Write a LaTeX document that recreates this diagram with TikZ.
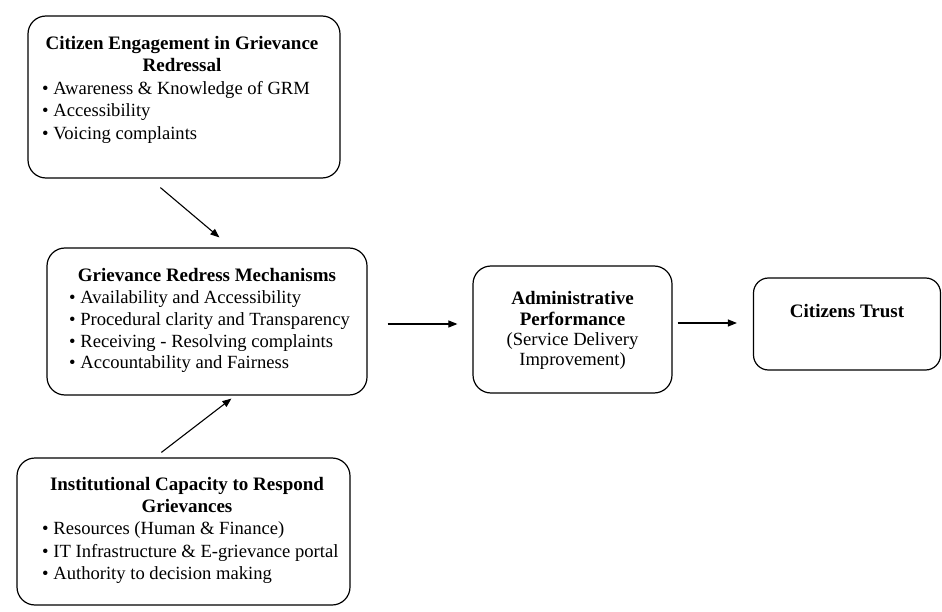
\documentclass[tikz,border=0pt]{standalone}
\usepackage{fontspec}
\setmainfont{Liberation Serif}
\usetikzlibrary{arrows.meta,calc}
\tikzset{
  box/.style={draw, line width=1.2pt, rounded corners=18pt, inner sep=0pt},
  txt/.style={font=\fontsize{18.6}{22}\selectfont, inner sep=0pt},
  hd/.style={txt, font=\fontsize{19}{22}\selectfont\bfseries, anchor=base},
  bl/.style={txt, anchor=base west},
  arr/.style={-{Triangle[length=9pt,width=7pt]}, line width=1.1pt}
}
\begin{document}
\begin{tikzpicture}[x=1pt,y=-1pt]
\useasboundingbox (0,0) rectangle (942,612);
% boxes
\node[box, minimum width=312pt, minimum height=162pt] (ce) at (184,97) {};
\node[box, minimum width=320pt, minimum height=147pt] (grm) at (207,321.5) {};
\node[box, minimum width=333pt, minimum height=147pt] (icr) at (183.5,531.5) {};
\node[box, minimum width=199pt, minimum height=127pt] (adm) at (572.5,329.5) {};
\node[box, rounded corners=15pt, minimum width=187pt, minimum height=92pt] (ct) at (847,324) {};
% top box text
\node[hd] (ceh1) at (182,50) {Citizen Engagement in Grievance};
\node[hd] (ceh2) at (182,72) {Redressal};
\foreach \t [count=\i] in {Awareness \& Knowledge of GRM, Accessibility, Voicing complaints}
  \node[bl] (ceb\i) at (42,{72+22.5*\i}) {• \t};
% middle box text
\node[hd] (grmh) at (207,282) {Grievance Redress Mechanisms};
\foreach \t [count=\i] in {Availability and Accessibility, Procedural clarity and Transparency, Receiving - Resolving complaints, Accountability and Fairness}
  \node[bl] (grmb\i) at (69,{282+21.7*\i}) {• \t};
% bottom box text
\node[hd] (icrh1) at (187,490) {Institutional Capacity to Respond};
\node[hd] (icrh2) at (187,512) {Grievances};
\foreach \t [count=\i] in {Resources (Human \& Finance), IT Infrastructure \& E-grievance portal, Authority to decision making}
  \node[bl] (icrb\i) at (42,{512+22.5*\i}) {• \t};
% admin box text
\node[hd] (adm1) at (572.5,305) {Administrative};
\node[hd] (adm2) at (572.5,325) {Performance};
\node[txt, anchor=base] (adm3) at (572.5,345) {(Service Delivery};
\node[txt, anchor=base] (adm4) at (572.5,365) {Improvement)};
% trust text
\node[hd] (ctt) at (847,317) {Citizens Trust};
% arrows
\draw[arr] ($(ce.south west)+(133,9)$) -- ($(grm.north west)+(173,-10)$);
\draw[arr] ($(icr.north west)+(145,-5)$) -- ($(grm.south west)+(185,3)$);
\draw[arr] ($(grm.east)+(20,2.5)$) -- ($(adm.west)+(-15,-5.5)$);
\draw[arr] ($(adm.east)+(5,-6.5)$) -- ($(ct.west)+(-16,-1)$);
\end{tikzpicture}
\end{document}
